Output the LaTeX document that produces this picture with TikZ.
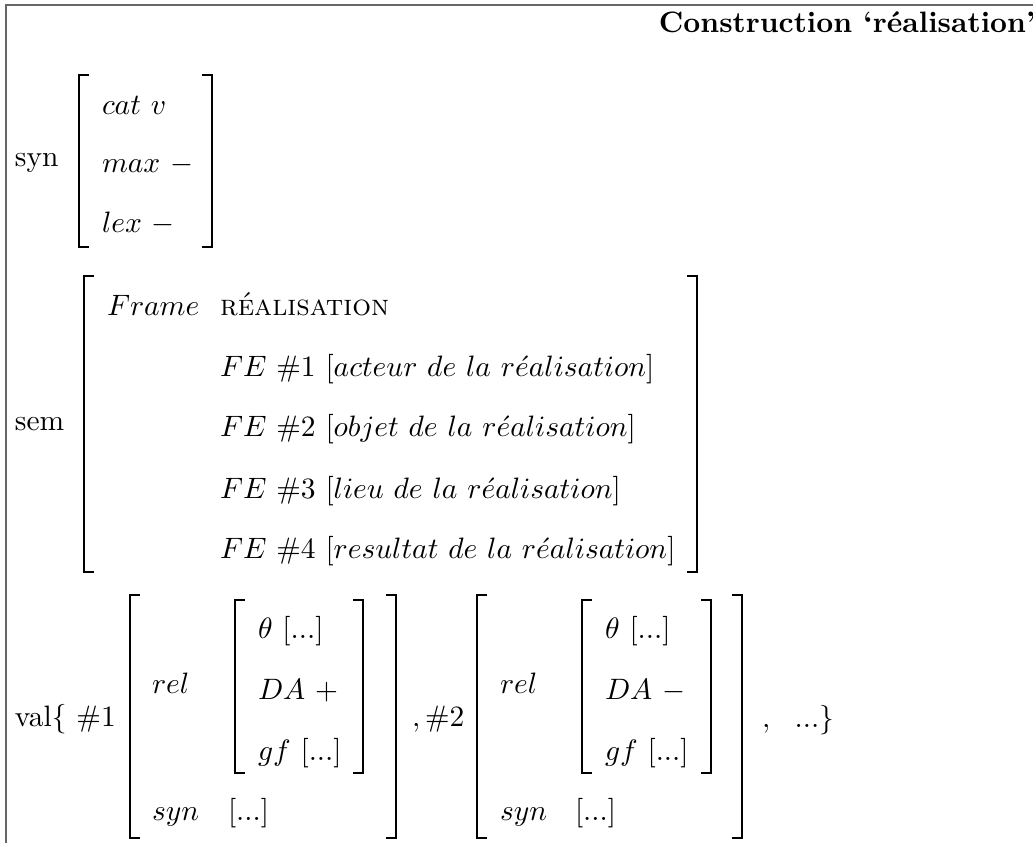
\documentclass[tikz,border=0pt]{standalone}
\begin{document}
\begin{tikzpicture}[x=0.339pt,y=-0.339pt,
  txt/.style={inner sep=0pt,outer sep=0pt,anchor=base west},
  frameline/.style={draw=black!60,line width=0.7pt},
  brk/.style={draw=black,line width=0.8pt}]
\useasboundingbox (0,0) rectangle (1033,843);
% frame
\draw[frameline] (6,845) -- (6,5) -- (1035,5);
\node[inner sep=0pt,anchor=base east] (title) at (1036,33) {\textbf{Construction ‘réalisation’}};
% syn
\node[txt] (synlab) at (15,167) {syn};
\draw[brk] (89,75) -- (79,75) -- (79,247) -- (89,247);
\draw[brk] (202,75) -- (212,75) -- (212,247) -- (202,247);
\node[txt] (cat) at (102,115) {$cat\ v$};
\node[txt] (max) at (102,173) {$max\ {-}$};
\node[txt] (lex) at (102,233) {$lex\ {-}$};
% sem
\node[txt] (semlab) at (15,430) {sem};
\draw[brk] (94,276) -- (84,276) -- (84,572) -- (94,572);
\draw[brk] (687,276) -- (697,276) -- (697,572) -- (687,572);
\node[txt] (frame) at (107,316) {$Frame$};
\node[txt] (frval) at (220,316) {\textsc{réalisation}};
\node[txt] (fe1) at (220,377) {$FE\ \#1\ [acteur\ de\ la\ r\acute{e}alisation]$};
\node[txt] (fe2) at (220,437) {$FE\ \#2\ [objet\ de\ la\ r\acute{e}alisation]$};
\node[txt] (fe3) at (220,498) {$FE\ \#3\ [lieu\ de\ la\ r\acute{e}alisation]$};
\node[txt] (fe4) at (220,558) {$FE\ \#4\ [resultat\ de\ la\ r\acute{e}alisation]$};
% val
\node[txt] (vallab) at (15,726) {val\{ $\#1$};
\draw[brk] (140,595) -- (130,595) -- (130,838) -- (140,838);
\draw[brk] (386,595) -- (396,595) -- (396,838) -- (386,838);
\node[txt] (rel1) at (152,693) {$rel$};
\draw[brk] (245,600) -- (235,600) -- (235,773) -- (245,773);
\draw[brk] (353,600) -- (363,600) -- (363,773) -- (353,773);
\node[txt] (th1) at (258,638) {$\theta\ [...]$};
\node[txt] (da1) at (258,699) {$DA\ +$};
\node[txt] (gf1) at (258,760) {$gf\ [...]$};
\node[txt] (syn1) at (152,820) {$syn$};
\node[txt] (synv1) at (228,820) {$[...]$};
\node[txt] (sep2) at (412,726) {$,\#2$};
\draw[brk] (487,595) -- (477,595) -- (477,838) -- (487,838);
\draw[brk] (732,595) -- (742,595) -- (742,838) -- (732,838);
\node[txt] (rel2) at (500,693) {$rel$};
\draw[brk] (592,600) -- (582,600) -- (582,773) -- (592,773);
\draw[brk] (701,600) -- (711,600) -- (711,773) -- (701,773);
\node[txt] (th2) at (605,638) {$\theta\ [...]$};
\node[txt] (da2) at (605,699) {$DA\ {-}$};
\node[txt] (gf2) at (605,760) {$gf\ [...]$};
\node[txt] (syn2) at (500,820) {$syn$};
\node[txt] (synv2) at (575,820) {$[...]$};
\node[txt] (tail) at (762,727) {$,\ \ ...\}$};
\end{tikzpicture}
\end{document}
